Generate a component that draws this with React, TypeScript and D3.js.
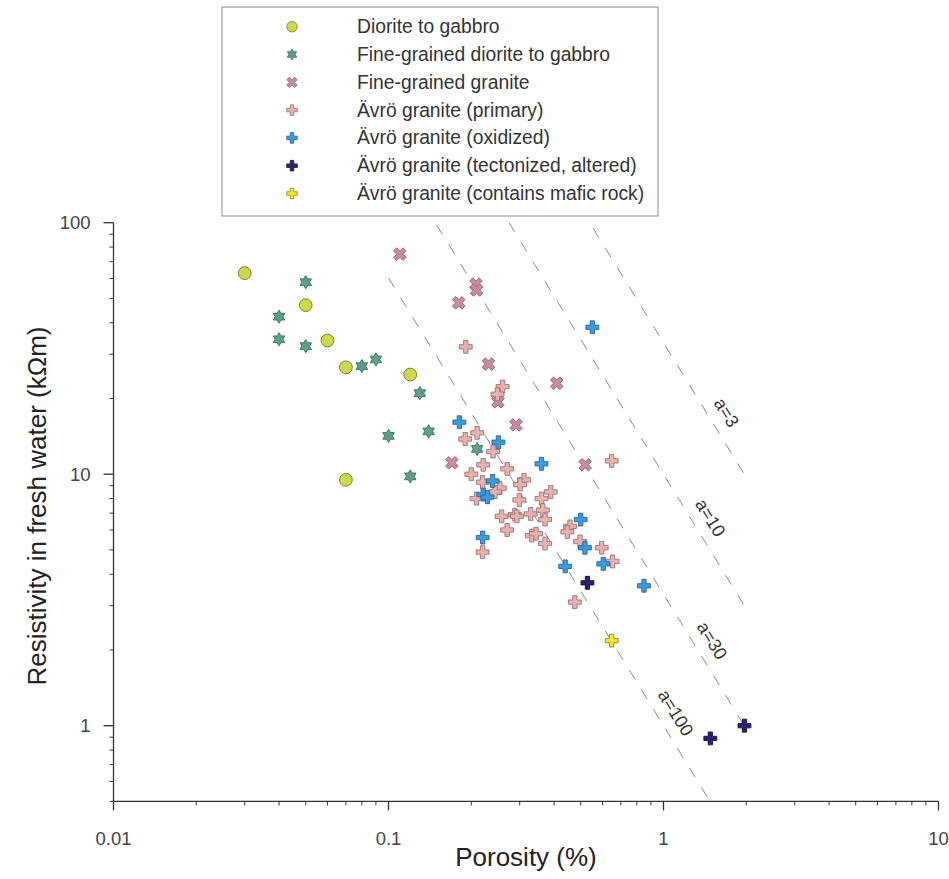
import React, { useEffect, useRef } from "react";
import * as d3 from "d3";

const WIDTH = 949;
const HEIGHT = 879;

// Samples: [porosity (%), resistivity in fresh water (kΩm)]
const dioriteGabbro: [number, number][] = [
  [0.03, 63], [0.05, 47], [0.06, 34], [0.07, 26.6], [0.12, 24.9], [0.07, 9.5],
];
const fineDioriteGabbro: [number, number][] = [
  [0.05, 58], [0.04, 42.3], [0.04, 34.4], [0.05, 32.3], [0.08, 26.9], [0.09, 28.6],
  [0.13, 21], [0.1, 14.2], [0.14, 14.8], [0.12, 9.8], [0.21, 12.6],
];
const fineGranite: [number, number][] = [
  [0.11, 75], [0.208, 57], [0.209, 54], [0.18, 48], [0.231, 27.4], [0.25, 19.4],
  [0.409, 23], [0.291, 15.7], [0.17, 11.1], [0.519, 10.9],
];
const avroPrimary: [number, number][] = [
  [0.191, 32.1], [0.26, 22.3], [0.249, 20.8], [0.21, 14.6], [0.19, 13.8], [0.24, 12.3],
  [0.648, 11.3], [0.221, 10.9], [0.27, 10.5], [0.2, 10.0], [0.22, 9.3], [0.311, 9.5],
  [0.254, 8.8], [0.301, 9.1], [0.389, 8.5], [0.209, 8.0], [0.244, 8.5], [0.299, 7.9],
  [0.36, 8.0], [0.258, 6.8], [0.288, 6.9], [0.293, 6.8], [0.329, 6.95], [0.364, 7.2],
  [0.371, 6.6], [0.27, 6.0], [0.457, 6.2], [0.447, 5.9], [0.332, 5.7], [0.344, 5.8],
  [0.371, 5.3], [0.22, 4.9], [0.497, 5.4], [0.596, 5.1], [0.653, 4.5], [0.476, 3.1],
];
const avroOxidized: [number, number][] = [
  [0.551, 38.4], [0.181, 16.1], [0.251, 13.4], [0.36, 11.0], [0.239, 9.4], [0.221, 8.3],
  [0.229, 8.1], [0.22, 5.6], [0.5, 6.6], [0.518, 5.1], [0.604, 4.4], [0.439, 4.3],
  [0.849, 3.6],
];
const avroTectonized: [number, number][] = [
  [0.529, 3.7], [1.97, 1.0], [1.48, 0.89],
];
const avroMafic: [number, number][] = [
  [0.648, 2.18],
];

const seriesNames = [
  "Diorite to gabbro",
  "Fine-grained diorite to gabbro",
  "Fine-grained granite",
  "Ävrö granite (primary)",
  "Ävrö granite (oxidized)",
  "Ävrö granite (tectonized, altered)",
  "Ävrö granite (contains mafic rock)",
];

const xTickValues = [0.01, 0.1, 1, 10];
const xTickLabels = ["0.01", "0.1", "1", "10"];
const yTickValues = [1, 10, 100];
const yTickLabels = ["1", "10", "100"];

// Reference lines R = (100 / a) * porosity^-m
const factorValues = [3, 10, 30, 100];
const factorLabels = ["a=3", "a=10", "a=30", "a=100"];
const factorLabelPorosity = [1.5, 1.31, 1.33, 0.98];
const cementationExponent = 1.78;
const linePorosityRange = [0.1, 2];

const FONT = "'Liberation Sans', Arial, Helvetica, sans-serif";

type Style = { shape: string; fill: string; stroke: string };
const styles: Style[] = [
  { shape: "circle", fill: "#cbd94a", stroke: "#6f7c27" },
  { shape: "star", fill: "#5c9f8b", stroke: "#3b6c5e" },
  { shape: "x", fill: "#c68b9f", stroke: "#9c6678" },
  { shape: "cross", fill: "#e8b3ae", stroke: "#9a7272" },
  { shape: "cross", fill: "#3c9ade", stroke: "#2a6696" },
  { shape: "cross", fill: "#2d1f6e", stroke: "#1a1040" },
  { shape: "cross", fill: "#f1e72d", stroke: "#8a8526" },
];

function starPath(outer: number, inner: number): string {
  const pts: [number, number][] = [];
  for (let k = 0; k < 12; k++) {
    const ang = -Math.PI / 2 + (k * Math.PI) / 6;
    const r = k % 2 === 0 ? outer : inner;
    pts.push([r * Math.cos(ang), r * Math.sin(ang)]);
  }
  return "M" + pts.map((p) => p.join(",")).join("L") + "Z";
}

function markerPath(shape: string, scale: number): string {
  if (shape === "circle") return d3.symbol(d3.symbolCircle, Math.PI * (6.4 * scale) ** 2)()!;
  if (shape === "star") return starPath(6.6 * scale, 3.9 * scale);
  if (shape === "x") return d3.symbol(d3.symbolCross, 100 * scale * scale)()!;
  return d3.symbol(d3.symbolCross, 92 * scale * scale)()!;
}

export default function App() {
  const ref = useRef<SVGSVGElement>(null);

  useEffect(() => {
    const svg = d3.select(ref.current);
    svg.selectAll("*").remove();

    const left = 113.5, right = 938.5, top = 222.7, bottom = 801.4;
    const x = d3.scaleLog().domain([0.01, 10]).range([left, right]);
    const y = d3.scaleLog().domain([0.5, 100]).range([bottom, top]);

    svg.append("rect").attr("width", WIDTH).attr("height", HEIGHT).attr("fill", "#fff");

    svg.append("defs").append("clipPath").attr("id", "plot-clip")
      .append("rect").attr("x", left).attr("y", top)
      .attr("width", right - left).attr("height", bottom - top);

    // Reference lines
    const refG = svg.append("g").attr("clip-path", "url(#plot-clip)");
    factorValues.forEach((a) => {
      const r = (p: number) => (100 / a) * Math.pow(p, -cementationExponent);
      const pts = linePorosityRange.map((p) => [x(p), y(r(p))] as [number, number]);
      refG.append("path")
        .attr("d", d3.line()(pts))
        .attr("fill", "none")
        .attr("stroke", "#8a8a8a")
        .attr("stroke-width", 1)
        .attr("stroke-dasharray", "11,12");
    });

    // Rotated line labels
    const angle = (Math.atan2(y(1) - y(10), (x(10) - x(1)) / cementationExponent) * 180) / Math.PI;
    const rad = (angle * Math.PI) / 180;
    const perp = [Math.sin(rad), -Math.cos(rad)];
    factorValues.forEach((a, i) => {
      const p = factorLabelPorosity[i];
      const r = (100 / a) * Math.pow(p, -cementationExponent);
      const cx = x(p) + perp[0] * 17;
      const cy = y(r) + perp[1] * 17;
      svg.append("text")
        .attr("transform", `translate(${cx},${cy}) rotate(${angle})`)
        .attr("text-anchor", "middle")
        .attr("dominant-baseline", "central")
        .attr("font-family", FONT)
        .attr("font-size", 18)
        .attr("fill", "#333")
        .text(factorLabels[i]);
    });

    // Axes
    const axisColor = "#333";
    svg.append("line").attr("x1", left).attr("x2", right).attr("y1", bottom).attr("y2", bottom)
      .attr("stroke", axisColor).attr("stroke-width", 1.3);
    svg.append("line").attr("x1", left).attr("x2", left).attr("y1", top).attr("y2", bottom)
      .attr("stroke", axisColor).attr("stroke-width", 1.3);

    const xMinor: number[] = [];
    [0.01, 0.1, 1].forEach((d) => { for (let k = 2; k <= 9; k++) xMinor.push(d * k); });
    const yMinor: number[] = [];
    [0.1, 1, 10].forEach((d) => { for (let k = 2; k <= 9; k++) { const v = d * k; if (v >= 0.5 && v < 100) yMinor.push(v); } });

    xMinor.forEach((v) => {
      svg.append("line").attr("x1", x(v)).attr("x2", x(v)).attr("y1", bottom).attr("y2", bottom + 4)
        .attr("stroke", axisColor).attr("stroke-width", 1);
    });
    xTickValues.forEach((v, i) => {
      svg.append("line").attr("x1", x(v)).attr("x2", x(v)).attr("y1", bottom).attr("y2", bottom + 9)
        .attr("stroke", axisColor).attr("stroke-width", 1.3);
      svg.append("text").attr("x", x(v)).attr("y", bottom + 44)
        .attr("text-anchor", "middle").attr("font-family", FONT).attr("font-size", 18.5)
        .attr("fill", "#444").text(xTickLabels[i]);
    });
    yMinor.forEach((v) => {
      svg.append("line").attr("x1", left - 4).attr("x2", left).attr("y1", y(v)).attr("y2", y(v))
        .attr("stroke", axisColor).attr("stroke-width", 1);
    });
    yTickValues.forEach((v, i) => {
      svg.append("line").attr("x1", left - 10).attr("x2", left).attr("y1", y(v)).attr("y2", y(v))
        .attr("stroke", axisColor).attr("stroke-width", 1.3);
      svg.append("text").attr("x", left - 23).attr("y", y(v))
        .attr("text-anchor", "end").attr("dominant-baseline", "central")
        .attr("font-family", FONT).attr("font-size", 18.5)
        .attr("fill", "#444").text(yTickLabels[i]);
    });

    // Axis titles
    svg.append("text").attr("x", 526).attr("y", 866)
      .attr("text-anchor", "middle").attr("font-family", FONT).attr("font-size", 26)
      .attr("fill", "#222").text("Porosity (%)");
    svg.append("text").attr("transform", "translate(37,506) rotate(-90)")
      .attr("text-anchor", "middle").attr("dominant-baseline", "central")
      .attr("font-family", FONT).attr("font-size", 26)
      .attr("fill", "#222").text("Resistivity in fresh water (kΩm)");

    // Points
    const allSeries = [
      dioriteGabbro, fineDioriteGabbro, fineGranite, avroPrimary,
      avroOxidized, avroTectonized, avroMafic,
    ];
    allSeries.forEach((data, si) => {
      const st = styles[si];
      const path = markerPath(st.shape, 1);
      const rot = st.shape === "x" ? 45 : 0;
      svg.append("g").selectAll("path").data(data).join("path")
        .attr("d", path)
        .attr("transform", (d) => `translate(${x(d[0])},${y(d[1])}) rotate(${rot})`)
        .attr("fill", st.fill)
        .attr("stroke", st.stroke)
        .attr("stroke-width", 0.9);
    });

    // Legend
    const lg = svg.append("g");
    lg.append("rect").attr("x", 222).attr("y", 7).attr("width", 436).attr("height", 209)
      .attr("fill", "#fff").attr("stroke", "#8a8a8a").attr("stroke-width", 1);
    seriesNames.forEach((name, i) => {
      const cy = 26.7 + i * 27.8;
      const st = styles[i];
      const rot = st.shape === "x" ? 45 : 0;
      lg.append("path").attr("d", markerPath(st.shape, 0.82))
        .attr("transform", `translate(292,${cy}) rotate(${rot})`)
        .attr("fill", st.fill).attr("stroke", st.stroke).attr("stroke-width", 0.8);
      lg.append("text").attr("x", 357).attr("y", cy)
        .attr("dominant-baseline", "central")
        .attr("font-family", FONT).attr("font-size", 19.3)
        .attr("fill", "#333").text(name);
    });
  }, []);

  return (
    <svg
      ref={ref}
      width={WIDTH}
      height={HEIGHT}
      style={{ position: "absolute", left: 0, top: 0, display: "block" }}
    />
  );
}
